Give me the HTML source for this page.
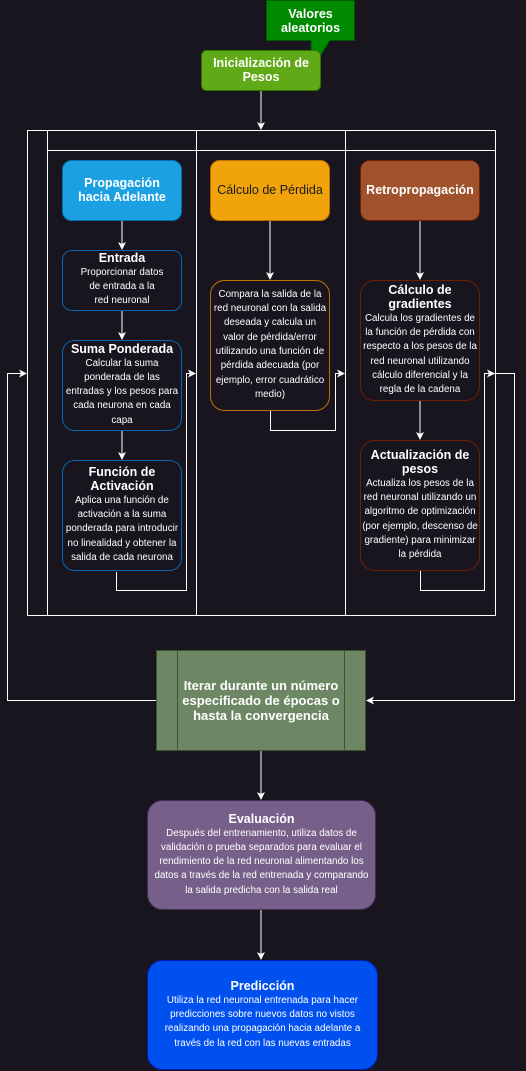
<!DOCTYPE html>
<html><head><meta charset="utf-8"><style>
html,body{margin:0;padding:0;background:#18151f;}
#c{position:relative;width:526px;height:1071px;overflow:hidden;font-family:"Liberation Sans",sans-serif;color:#fff;}
svg{position:absolute;left:0;top:0;}
.t{position:absolute;display:flex;flex-direction:column;justify-content:center;align-items:center;text-align:center;box-sizing:border-box;}
.h{font-weight:bold;font-size:12.5px;line-height:14.5px;}
.b{font-size:9.8px;line-height:14.3px;}
</style></head><body><div id="c">
<svg width="526" height="1071">
<defs><marker id="a" markerWidth="8" markerHeight="8" refX="7" refY="4" orient="auto" markerUnits="userSpaceOnUse"><path d="M0,0 L8,4 L0,8 L2,4z" fill="#fff"/></marker></defs>
<g fill="none" stroke="#fff" stroke-width="1">
<rect x="27.5" y="130.5" width="468" height="485"/>
<line x1="47.5" y1="130" x2="47.5" y2="615"/>
<line x1="47" y1="150.5" x2="495" y2="150.5"/>
<line x1="196.5" y1="130" x2="196.5" y2="615"/>
<line x1="345.5" y1="130" x2="345.5" y2="615"/>
<line x1="261" y1="90" x2="261" y2="129" marker-end="url(#a)"/>
<line x1="122" y1="220" x2="122" y2="249" marker-end="url(#a)"/>
<line x1="122" y1="310" x2="122" y2="339" marker-end="url(#a)"/>
<line x1="122" y1="430" x2="122" y2="459" marker-end="url(#a)"/>
<line x1="270" y1="220" x2="270" y2="279" marker-end="url(#a)"/>
<line x1="420" y1="220" x2="420" y2="279" marker-end="url(#a)"/>
<line x1="420" y1="400" x2="420" y2="439" marker-end="url(#a)"/>
<polyline points="116.5,572 116.5,590.5 186.5,590.5 186.5,373.5 195,373.5" marker-end="url(#a)"/>
<polyline points="270.5,410 270.5,430.5 335.5,430.5 335.5,373.5 344,373.5" marker-end="url(#a)"/>
<polyline points="420.5,570 420.5,590.5 484.5,590.5 484.5,373.5 494,373.5" marker-end="url(#a)"/>
<polyline points="156,700.5 7.5,700.5 7.5,373.5 26,373.5" marker-end="url(#a)"/>
<polyline points="490,373.5 514.5,373.5 514.5,700.5 367,700.5" marker-end="url(#a)"/>
<line x1="261" y1="750" x2="261" y2="799" marker-end="url(#a)"/>
<line x1="261" y1="910" x2="261" y2="959" marker-end="url(#a)"/>
</g>
<path d="M266.5,0.5 H354.5 V40.5 H330 L311,70 V40.5 H266.5z" fill="#008a00" stroke="#005700"/>
<rect x="201.5" y="50.5" width="119" height="40" rx="5" fill="#60a917" stroke="#2d7600"/>
<rect x="62.5" y="160.5" width="119" height="60" rx="9" fill="#1ba1e2" stroke="#006eaf"/>
<rect x="210.5" y="160.5" width="119" height="60" rx="9" fill="#f0a30a" stroke="#bd7000"/>
<rect x="360.5" y="160.5" width="119" height="60" rx="9" fill="#a0522d" stroke="#6d1f00"/>
<g fill="none">
<rect x="62.5" y="250.5" width="119" height="60" rx="9" stroke="#0a66b0"/>
<rect x="62.5" y="340.5" width="119" height="90" rx="12" stroke="#0a66b0"/>
<rect x="62.5" y="460.5" width="119" height="110" rx="12" stroke="#0a66b0"/>
<rect x="210.5" y="280.5" width="119" height="130" rx="14" stroke="#bd7000"/>
<rect x="360.5" y="280.5" width="119" height="120" rx="14" stroke="#6d1f00"/>
<rect x="360.5" y="440.5" width="119" height="130" rx="14" stroke="#6d1f00"/>
</g>
<rect x="156.5" y="650.5" width="209" height="100" fill="#6d8764" stroke="#3a5431"/>
<line x1="177.5" y1="650" x2="177.5" y2="750" stroke="#3a5431"/>
<line x1="344.5" y1="650" x2="344.5" y2="750" stroke="#3a5431"/>
<rect x="147.5" y="800.5" width="228" height="109" rx="15" fill="#76608a" stroke="#432d57"/>
<rect x="147.5" y="960.5" width="230" height="109" rx="15" fill="#0050ef" stroke="#001dbc"/>
</svg>
<div class="t h" style="left:266px;top:2px;width:89px;height:38px;">Valores<br>aleatorios</div>
<div class="t h" style="left:201px;top:50px;width:120px;height:40px;">Inicialización de<br>Pesos</div>
<div class="t h" style="left:62px;top:160px;width:120px;height:60px;">Propagación<br>hacia Adelante</div>
<div class="t h" style="left:210px;top:160px;width:120px;height:60px;font-weight:normal;color:#1a1a1a;">Cálculo de Pérdida</div>
<div class="t h" style="left:360px;top:160px;width:120px;height:60px;">Retropropagación</div>
<div class="t" style="left:62px;top:250px;width:120px;height:60px;"><div class="h">Entrada</div><div class="b">Proporcionar datos<br>de entrada a la<br>red neuronal</div></div>
<div class="t" style="left:62px;top:340px;width:120px;height:90px;"><div class="h">Suma Ponderada</div><div class="b">Calcular la suma<br>ponderada de las<br>entradas y los pesos para<br>cada neurona en cada<br>capa</div></div>
<div class="t" style="left:62px;top:460px;width:120px;height:110px;"><div class="h">Función de<br>Activación</div><div class="b">Aplica una función de<br>activación a la suma<br>ponderada para introducir<br>no linealidad y obtener la<br>salida de cada neurona</div></div>
<div class="t b" style="left:210px;top:280px;width:120px;height:130px;">Compara la salida de la<br>red neuronal con la salida<br>deseada y calcula un<br>valor de pérdida/error<br>utilizando una función de<br>pérdida adecuada (por<br>ejemplo, error cuadrático<br>medio)</div>
<div class="t" style="left:360px;top:280px;width:120px;height:120px;"><div class="h">Cálculo de<br>gradientes</div><div class="b">Calcula los gradientes de<br>la función de pérdida con<br>respecto a los pesos de la<br>red neuronal utilizando<br>cálculo diferencial y la<br>regla de la cadena</div></div>
<div class="t" style="left:360px;top:440px;width:120px;height:130px;"><div class="h">Actualización de<br>pesos</div><div class="b">Actualiza los pesos de la<br>red neuronal utilizando un<br>algoritmo de optimización<br>(por ejemplo, descenso de<br>gradiente) para minimizar<br>la pérdida</div></div>
<div class="t h" style="left:156px;top:650px;width:210px;height:100px;font-size:13px;line-height:15px;">Iterar durante un número<br>especificado de épocas o<br>hasta la convergencia</div>
<div class="t" style="left:147px;top:800px;width:229px;height:110px;"><div class="h">Evaluación</div><div class="b">Después del entrenamiento, utiliza datos de<br>validación o prueba separados para evaluar el<br>rendimiento de la red neuronal alimentando los<br>datos a través de la red entrenada y comparando<br>la salida predicha con la salida real</div></div>
<div class="t" style="left:147px;top:960px;width:231px;height:110px;"><div class="h">Predicción</div><div class="b">Utiliza la red neuronal entrenada para hacer<br>predicciones sobre nuevos datos no vistos<br>realizando una propagación hacia adelante a<br>través de la red con las nuevas entradas</div></div>
</div></body></html>
